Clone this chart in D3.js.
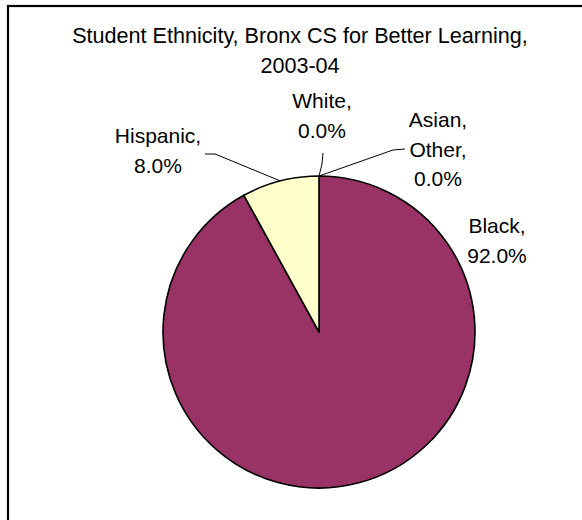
<!DOCTYPE html>
<html lang="en">
<head>
    <meta charset="UTF-8">
    <title>Student Ethnicity</title>
    <style>
        html, body { margin: 0; padding: 0; overflow: hidden; background: #fff; }
        svg { display: block; }
        text { font-family: "Liberation Sans", Arial, sans-serif; fill: #000; }
    </style>
</head>
<body>
    <script src="https://d3js.org/d3.v7.min.js"></script>
    <script>
        // chart data
        const titleLines = ['Student Ethnicity, Bronx CS for Better Learning,', '2003-04'];
        const groups = ['Black', 'Hispanic', 'White', 'Asian, Other'];
        const shares = [0.92, 0.08, 0.0, 0.0];
        const colors = ['#993366', '#FFFFCC', '#FFFFFF', '#FFFFFF'];

        // where each label sits (center x, first baseline) and its leader line elbow
        const labelLayout = [
            { x: 497, y: 233, leader: null },
            { x: 158, y: 143, leader: [[205, 154], [215, 154]] },
            { x: 322, y: 108, leader: [[323, 153], [322, 164]] },
            { x: 438, y: 127, leader: [[405, 149], [393, 150]] }
        ];

        const W = 582, H = 520;
        const cx = 319, cy = 332, r = 156;

        const svg = d3.select('body').append('svg').attr('width', W).attr('height', H);

        // chart frame (runs off the right / bottom edge)
        svg.append('rect')
            .attr('x', 8).attr('y', 6)
            .attr('width', 600).attr('height', 540)
            .attr('fill', '#fff')
            .attr('stroke', '#000')
            .attr('stroke-width', 2.2);

        svg.selectAll('.title')
            .data(titleLines)
            .enter().append('text')
            .attr('class', 'title')
            .attr('x', 300)
            .attr('y', (d, i) => 43 + i * 30)
            .attr('text-anchor', 'middle')
            .style('font-size', '21.6px')
            .text(d => d);

        const rows = groups.map((g, i) => ({ name: g, value: shares[i], color: colors[i], pos: labelLayout[i] }));

        const pie = d3.pie().sort(null).value(d => d.value).startAngle(0).endAngle(2 * Math.PI);
        const arc = d3.arc().innerRadius(0).outerRadius(r);
        const arcs = pie(rows);

        const g = svg.append('g').attr('transform', `translate(${cx},${cy})`);

        g.selectAll('.slice')
            .data(arcs.filter(d => d.data.value > 0))
            .enter().append('path')
            .attr('class', 'slice')
            .attr('d', arc)
            .attr('fill', d => d.data.color)
            .attr('stroke', '#000')
            .attr('stroke-width', 1.6)
            .attr('stroke-linejoin', 'round');

        // leader lines, ending on the rim at each slice's mid angle
        const rimPoint = d => {
            const a = (d.startAngle + d.endAngle) / 2;
            return [cx + r * Math.sin(a), cy - r * Math.cos(a)];
        };
        const line = d3.line();
        svg.selectAll('.leader')
            .data(arcs.filter(d => d.data.pos.leader))
            .enter().append('path')
            .attr('class', 'leader')
            .attr('d', d => line(d.data.pos.leader.concat([rimPoint(d)])))
            .attr('fill', 'none')
            .attr('stroke', '#000')
            .attr('stroke-width', 1);

        const pct = d3.format('.1%');
        const labels = svg.selectAll('.label')
            .data(arcs)
            .enter().append('text')
            .attr('class', 'label')
            .attr('text-anchor', 'middle')
            .style('font-size', '21px');

        labels.each(function (d) {
            const parts = d.data.name.split(', ').map(p => p + ',');
            parts.push(pct(d.data.value));
            d3.select(this).selectAll('tspan')
                .data(parts)
                .enter().append('tspan')
                .attr('x', d.data.pos.x)
                .attr('y', (p, i) => d.data.pos.y + i * 29.5)
                .text(p => p);
        });
    </script>
</body>
</html>
